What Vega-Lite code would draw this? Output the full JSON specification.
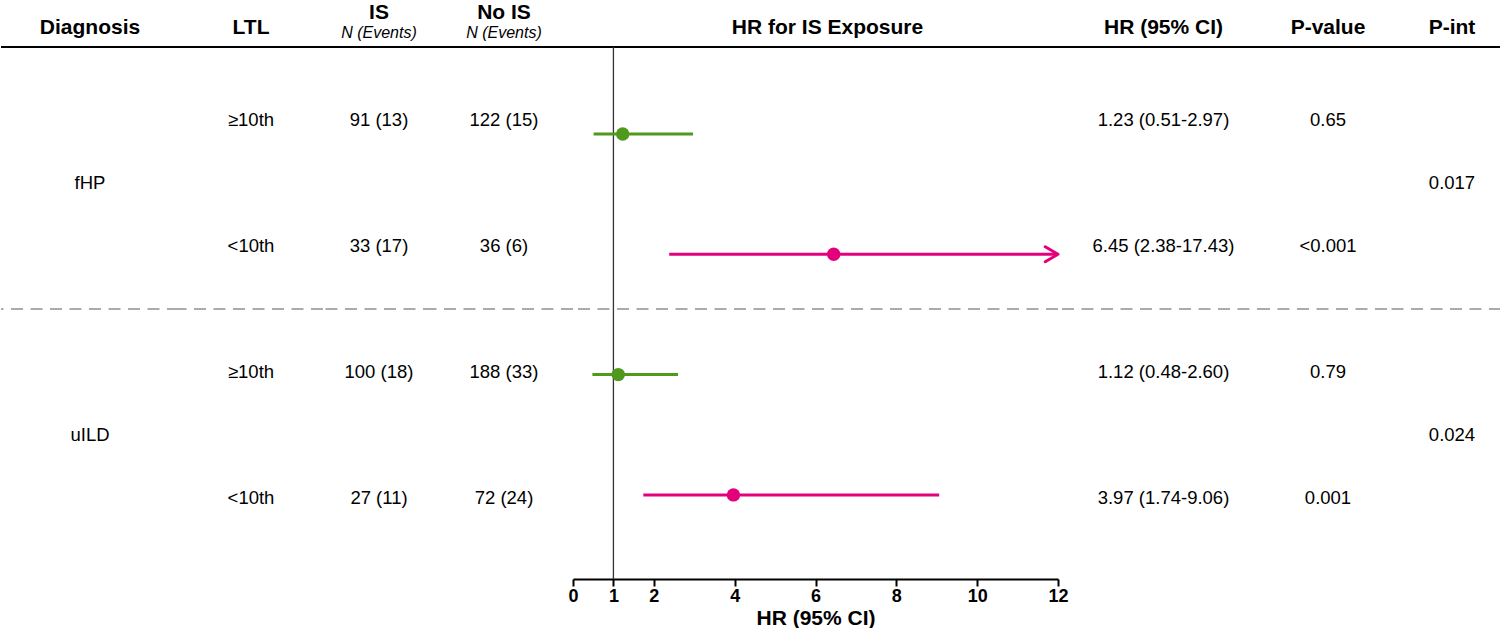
{
  "$schema": "https://vega.github.io/schema/vega-lite/v6.json",
  "padding": {"top": 2, "left": 0, "right": 0, "bottom": 0},
  "background": "white",
  "spacing": 0,
  "bounds": "flush",
  "datasets": {
    "rows": [
      {"diagnosis": "fHP", "ltl": "≥10th", "row": 1, "is_n": "91 (13)", "nois_n": "122 (15)", "hr": 1.23, "lower": 0.51, "upper": 2.97, "hrci": "1.23 (0.51-2.97)", "p": "0.65", "pint": "0.017"},
      {"diagnosis": "fHP", "ltl": "<10th", "row": 2, "is_n": "33 (17)", "nois_n": "36 (6)", "hr": 6.45, "lower": 2.38, "upper": 17.43, "hrci": "6.45 (2.38-17.43)", "p": "<0.001", "pint": "0.017"},
      {"diagnosis": "uILD", "ltl": "≥10th", "row": 3, "is_n": "100 (18)", "nois_n": "188 (33)", "hr": 1.12, "lower": 0.48, "upper": 2.60, "hrci": "1.12 (0.48-2.60)", "p": "0.79", "pint": "0.024"},
      {"diagnosis": "uILD", "ltl": "<10th", "row": 4, "is_n": "27 (11)", "nois_n": "72 (24)", "hr": 3.97, "lower": 1.74, "upper": 9.06, "hrci": "3.97 (1.74-9.06)", "p": "0.001", "pint": "0.024"}
    ]
  },
  "data": {"name": "rows"},
  "hconcat": [
    {
      "width": 178, "height": 532,
      "title": {"text": "Diagnosis", "offset": 8},
      "layer": [
        {"data": {"values": [{}]}, "mark": {"type": "rule", "color": "black", "strokeWidth": 2}, "encoding": {"y": {"datum": 0.42, "type": "quantitative", "axis": null}}},
        {"data": {"values": [{}]}, "mark": {"type": "rule", "color": "#ABABAB", "strokeWidth": 2, "strokeDash": [12, 7.5]}, "encoding": {"y": {"datum": 2.5, "type": "quantitative", "axis": null}}},
        {"mark": {"type": "text"}, "encoding": {"y": {"aggregate": "mean", "field": "row", "type": "quantitative", "scale": {"domain": [0.42, 4.643], "reverse": true, "nice": false, "zero": false}, "axis": null}, "text": {"field": "diagnosis"}}}
      ]
    },
    {
      "width": 144, "height": 532,
      "title": {"text": "LTL", "offset": 8},
      "layer": [
        {"data": {"values": [{}]}, "mark": {"type": "rule", "color": "black", "strokeWidth": 2}, "encoding": {"y": {"datum": 0.42, "type": "quantitative", "axis": null}}},
        {"data": {"values": [{}]}, "mark": {"type": "rule", "color": "#ABABAB", "strokeWidth": 2, "strokeDash": [12, 7.5]}, "encoding": {"y": {"datum": 2.5, "type": "quantitative", "axis": null}}},
        {"mark": {"type": "text"}, "encoding": {"y": {"field": "row", "type": "quantitative", "scale": {"domain": [0.42, 4.643], "reverse": true, "nice": false, "zero": false}, "axis": null}, "text": {"field": "ltl"}}}
      ]
    },
    {
      "width": 112, "height": 532,
      "title": {"text": "IS", "subtitle": "N (Events)"},
      "layer": [
        {"data": {"values": [{}]}, "mark": {"type": "rule", "color": "black", "strokeWidth": 2}, "encoding": {"y": {"datum": 0.42, "type": "quantitative", "axis": null}}},
        {"data": {"values": [{}]}, "mark": {"type": "rule", "color": "#ABABAB", "strokeWidth": 2, "strokeDash": [12, 7.5]}, "encoding": {"y": {"datum": 2.5, "type": "quantitative", "axis": null}}},
        {"mark": {"type": "text"}, "encoding": {"y": {"field": "row", "type": "quantitative", "scale": {"domain": [0.42, 4.643], "reverse": true, "nice": false, "zero": false}, "axis": null}, "text": {"field": "is_n"}}}
      ]
    },
    {
      "width": 138, "height": 532,
      "title": {"text": "No IS", "subtitle": "N (Events)"},
      "layer": [
        {"data": {"values": [{}]}, "mark": {"type": "rule", "color": "black", "strokeWidth": 2}, "encoding": {"y": {"datum": 0.42, "type": "quantitative", "axis": null}}},
        {"data": {"values": [{}]}, "mark": {"type": "rule", "color": "#ABABAB", "strokeWidth": 2, "strokeDash": [12, 7.5]}, "encoding": {"y": {"datum": 2.5, "type": "quantitative", "axis": null}}},
        {"mark": {"type": "text"}, "encoding": {"y": {"field": "row", "type": "quantitative", "scale": {"domain": [0.42, 4.643], "reverse": true, "nice": false, "zero": false}, "axis": null}, "text": {"field": "nois_n"}}}
      ]
    },
    {
      "width": 485, "height": 532,
      "title": {"text": "HR for IS Exposure", "offset": 8, "dx": 12},
      "layer": [
        {"data": {"values": [{}]}, "mark": {"type": "rule", "color": "black", "strokeWidth": 2}, "encoding": {"y": {"datum": 0.277, "type": "quantitative", "axis": null}}},
        {"data": {"values": [{}]}, "mark": {"type": "rule", "color": "#ABABAB", "strokeWidth": 2, "strokeDash": [12, 7.5]}, "encoding": {"y": {"datum": 2.455, "type": "quantitative", "axis": null}}},
        {"data": {"values": [{}]}, "mark": {"type": "rule", "color": "#333333", "strokeWidth": 1.3}, "encoding": {"x": {"datum": 1, "type": "quantitative"}}},
        {
          "mark": {"type": "rule", "strokeWidth": 3},
          "encoding": {
            "x": {"field": "lower", "type": "quantitative",
                  "scale": {"domain": [0, 12], "clamp": true, "nice": false, "zero": false},
                  "axis": {"values": [0, 1, 2, 4, 6, 8, 10, 12], "title": "HR (95% CI)", "grid": false,
                           "labelFlush": false, "labelOverlap": false, "labelFontWeight": "bold", "labelFontSize": 18, "labelColor": "black",
                           "labelPadding": 1, "domainColor": "black", "domainWidth": 2, "tickColor": "black", "tickWidth": 2, "tickSize": 7,
                           "titleFontSize": 21, "titleFontWeight": "bold", "titleColor": "black", "titlePadding": 2}},
            "x2": {"field": "upper"},
            "y": {"field": "row", "type": "quantitative", "scale": {"domain": [0.277, 4.699], "reverse": true, "nice": false, "zero": false}, "axis": null},
            "color": {"field": "ltl", "type": "nominal", "scale": {"domain": ["≥10th", "<10th"], "range": ["#4F9A1D", "#E4007C"]}, "legend": null}
          }
        },
        {
          "mark": {"type": "point", "filled": true, "opacity": 1, "size": 180},
          "encoding": {
            "x": {"field": "hr", "type": "quantitative"},
            "y": {"field": "row", "type": "quantitative"},
            "color": {"field": "ltl", "type": "nominal", "legend": null}
          }
        },
        {
          "transform": [{"filter": "datum.upper > 12"}],
          "mark": {"type": "point", "filled": false, "opacity": 1, "shape": "M-1.7,-1L0,0L-1.7,1", "size": 225, "strokeWidth": 3, "strokeCap": "round", "strokeJoin": "round"},
          "encoding": {
            "x": {"field": "upper", "type": "quantitative"},
            "y": {"field": "row", "type": "quantitative"},
            "color": {"field": "ltl", "type": "nominal", "legend": null}
          }
        }
      ]
    },
    {
      "width": 211, "height": 532,
      "title": {"text": "HR (95% CI)", "offset": 8},
      "layer": [
        {"data": {"values": [{}]}, "mark": {"type": "rule", "color": "black", "strokeWidth": 2}, "encoding": {"y": {"datum": 0.42, "type": "quantitative", "axis": null}}},
        {"data": {"values": [{}]}, "mark": {"type": "rule", "color": "#ABABAB", "strokeWidth": 2, "strokeDash": [12, 7.5]}, "encoding": {"y": {"datum": 2.5, "type": "quantitative", "axis": null}}},
        {"mark": {"type": "text"}, "encoding": {"y": {"field": "row", "type": "quantitative", "scale": {"domain": [0.42, 4.643], "reverse": true, "nice": false, "zero": false}, "axis": null}, "text": {"field": "hrci"}}}
      ]
    },
    {
      "width": 118, "height": 532,
      "title": {"text": "P-value", "offset": 8},
      "layer": [
        {"data": {"values": [{}]}, "mark": {"type": "rule", "color": "black", "strokeWidth": 2}, "encoding": {"y": {"datum": 0.42, "type": "quantitative", "axis": null}}},
        {"data": {"values": [{}]}, "mark": {"type": "rule", "color": "#ABABAB", "strokeWidth": 2, "strokeDash": [12, 7.5]}, "encoding": {"y": {"datum": 2.5, "type": "quantitative", "axis": null}}},
        {"mark": {"type": "text"}, "encoding": {"y": {"field": "row", "type": "quantitative", "scale": {"domain": [0.42, 4.643], "reverse": true, "nice": false, "zero": false}, "axis": null}, "text": {"field": "p"}}}
      ]
    },
    {
      "width": 114, "height": 532,
      "title": {"text": "P-int", "offset": 8, "dx": 8},
      "layer": [
        {"data": {"values": [{}]}, "mark": {"type": "rule", "color": "black", "strokeWidth": 2}, "encoding": {"y": {"datum": 0.42, "type": "quantitative", "axis": null}}},
        {"data": {"values": [{}]}, "mark": {"type": "rule", "color": "#ABABAB", "strokeWidth": 2, "strokeDash": [12, 7.5]}, "encoding": {"y": {"datum": 2.5, "type": "quantitative", "axis": null}}},
        {"mark": {"type": "text", "dx": 8}, "encoding": {"y": {"aggregate": "mean", "field": "row", "type": "quantitative", "scale": {"domain": [0.42, 4.643], "reverse": true, "nice": false, "zero": false}, "axis": null}, "text": {"field": "pint"}}}
      ]
    }
  ],
  "config": {
    "font": "Liberation Sans",
    "view": {"stroke": null},
    "text": {"fontSize": 18.5, "color": "black", "baseline": "middle"},
    "title": {"fontSize": 21, "fontWeight": "bold", "color": "black", "anchor": "middle", "offset": 5,
              "subtitleFont": "Liberation Sans", "subtitleFontSize": 16, "subtitleFontStyle": "italic", "subtitleColor": "black", "subtitlePadding": 2}
  }
}
